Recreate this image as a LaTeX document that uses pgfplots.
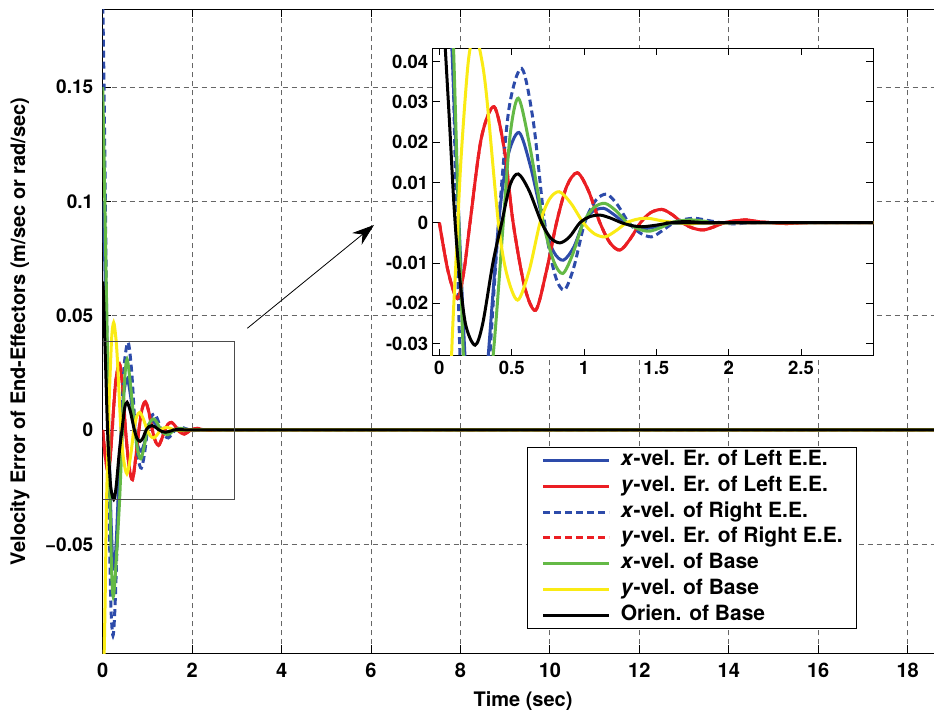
\documentclass[border=0pt]{standalone}
\usepackage{fontspec}
\setmainfont{TeX Gyre Heros}
\usepackage{pgfplots}
\pgfplotsset{compat=1.18}
\usepackage{pgfplotstable}
\usetikzlibrary{arrows.meta}

\definecolor{mblue}{RGB}{45,75,170}
\definecolor{mred}{RGB}{235,30,35}
\definecolor{mgreen}{RGB}{100,185,70}
\definecolor{myellow}{RGB}{250,235,20}

% x-vel. Er. of Left E.E.
\pgfplotstableread{
t v
0 0.100
0.03 0.085
0.06 0.063
0.085 0.0446
0.13 0.005
0.177 -0.033
0.22 -0.056
0.26 -0.060
0.30 -0.050
0.339 -0.0325
0.41 0
0.47 0.016
0.55 0.0224
0.63 0.014
0.719 0
0.79 -0.0072
0.857 -0.0093
0.93 -0.006
0.995 0
1.06 0.0028
1.134 0.0036
1.20 0.0022
1.28 0
1.35 -0.0010
1.433 -0.0014
1.52 -0.0008
1.60 0
1.70 0.0004
1.80 0.0002
1.95 0
3 0
20 0
}\xL

% y-vel. Er. of Left E.E.
\pgfplotstableread{
t v
0 0
0.06 -0.012
0.124 -0.0188
0.17 -0.012
0.212 0
0.29 0.021
0.378 0.0288
0.45 0.018
0.51 0
0.59 -0.016
0.666 -0.0217
0.74 -0.012
0.81 0
0.88 0.009
0.954 0.0124
1.03 0.008
1.11 0
1.18 -0.005
1.249 -0.0068
1.32 -0.004
1.39 0
1.46 0.0025
1.539 0.0033
1.61 0.002
1.68 0
1.75 -0.0013
1.825 -0.0018
1.90 -0.001
1.97 0
2.05 0.0005
2.124 0.0007
2.20 0.0003
2.30 0
2.40 -0.0002
2.55 0
3 0
20 0
}\yL

% x-vel. of Right E.E.
\pgfplotstableread{
t v
0 0.190
0.03 0.150
0.06 0.100
0.10 0.030
0.14 -0.030
0.18 -0.075
0.23 -0.090
0.28 -0.075
0.35 -0.0325
0.41 0
0.48 0.028
0.569 0.0383
0.65 0.025
0.728 0
0.80 -0.013
0.864 -0.0167
0.93 -0.011
1.005 0
1.08 0.0055
1.157 0.0071
1.23 0.0045
1.31 0
1.39 -0.0026
1.468 -0.0035
1.54 -0.002
1.62 0
1.69 0.0008
1.767 0.0011
1.85 0.0006
1.95 0
2.05 -0.0003
2.20 0
3 0
20 0
}\xR

% x-vel. of Base
\pgfplotstableread{
t v
0 0.150
0.03 0.120
0.06 0.085
0.097 0.0446
0.13 0.005
0.166 -0.033
0.20 -0.062
0.235 -0.073
0.28 -0.064
0.373 -0.0325
0.442 0
0.49 0.022
0.546 0.0309
0.62 0.020
0.719 0
0.79 -0.0095
0.853 -0.0126
0.92 -0.008
0.995 0
1.07 0.0038
1.145 0.0048
1.22 0.003
1.30 0
1.38 -0.0016
1.452 -0.0021
1.53 -0.0012
1.60 0
1.67 0.0005
1.744 0.0007
1.85 0.0003
1.95 0
3 0
20 0
}\xB

% y-vel. of Base
\pgfplotstableread{
t v
0 -0.110
0.03 -0.100
0.058 -0.070
0.085 -0.0325
0.12 -0.006
0.15 0.016
0.20 0.040
0.245 0.047
0.29 0.041
0.327 0.0313
0.408 0
0.465 -0.0126
0.541 -0.0192
0.62 -0.012
0.696 0
0.76 0.0058
0.829 0.0077
0.91 0.0048
0.995 0
1.07 -0.0027
1.145 -0.0035
1.22 -0.002
1.295 0
1.37 0.0009
1.445 0.0011
1.55 0.0004
1.65 0
1.75 -0.0003
1.90 0
3 0
20 0
}\yB

% Orien. of Base
\pgfplotstableread{
t v
0 0.065
0.02 0.058
0.039 0.0446
0.07 0.025
0.10 0.005
0.131 -0.0101
0.18 -0.025
0.247 -0.0304
0.30 -0.025
0.37 -0.010
0.431 0
0.49 0.0095
0.546 0.0121
0.62 0.008
0.707 0
0.77 -0.0038
0.834 -0.005
0.90 -0.0035
0.972 0
1.04 0.0015
1.11 0.0019
1.18 0.0012
1.26 0
1.33 -0.0007
1.40 -0.001
1.50 -0.0006
1.60 0
1.70 0.0003
1.80 0.0001
1.90 0
3 0
20 0
}\oB

\pgfplotsset{
  curve/.style={line width=3pt, smooth, no markers},
  mdash/.style={dash pattern=on 7pt off 4pt},
}

\begin{document}
\begin{tikzpicture}
\useasboundingbox (0pt,0pt) rectangle (934pt,714pt);
\begin{axis}[
  at={(102.7pt,60.7pt)}, anchor=south west,
  scale only axis, width=840.7pt, height=644pt,
  xmin=0, xmax=18.8, ymin=-0.0977, ymax=0.184,
  scaled ticks=false,
  xtick={0,2,4,6,8,10,12,14,16,18},
  xticklabels={0,2,4,6,8,10,12,14,16,18},
  ytick={-0.05,0,0.05,0.1,0.15},
  yticklabels={−0.05,0,0.05,0.1,0.15},
  tick align=inside, major tick length=8pt,
  tick style={line width=0.8pt, black},
  axis line style={line width=1.2pt},
  grid=major,
  major grid style={line width=0.8pt, black!60, dash pattern=on 5pt off 4pt},
  xticklabel style={font=\fontsize{20}{22}\selectfont\bfseries, yshift=-6pt},
  yticklabel style={font=\fontsize{19}{22}\selectfont\bfseries, xshift=-6pt},
  xlabel={Time (sec)},
  ylabel={Velocity Error of End-Effectors (m/sec or rad/sec)},
  label style={font=\fontsize{20}{22}\selectfont\bfseries},
  xlabel style={at={(axis description cs:0.5,-0.074)}, anchor=center},
  ylabel style={at={(axis description cs:-0.0984,0.5)}, anchor=center},
  legend style={at={(0.8973,0.3203)}, anchor=north east, draw=black,
    line width=0.8pt, fill=white,
    font=\fontsize{21}{23}\selectfont\bfseries,
    nodes={inner sep=0pt, text height=15pt, text depth=5pt},
    cells={anchor=west}, row sep=5.8pt, column sep=10pt,
    inner xsep=14pt, inner ysep=3pt},
  legend image code/.code={\draw[#1] (0pt,0pt) -- (66pt,0pt);},
]
\addplot[curve, mblue] table {\xL};
\addlegendentry{\textit{x}-vel. Er. of Left E.E.}
\addplot[curve, mred] table {\yL};
\addlegendentry{\textit{y}-vel. Er. of Left E.E.}
\addplot[curve, mblue, mdash] table {\xR};
\addlegendentry{\textit{x}-vel. of Right E.E.}
\addplot[curve, mred, mdash] table {\yL};
\addlegendentry{\textit{y}-vel. Er. of Right E.E.}
\addplot[curve, mgreen] table {\xB};
\addlegendentry{\textit{x}-vel. of Base}
\addplot[curve, myellow] table {\yB};
\addlegendentry{\textit{y}-vel. of Base}
\addplot[curve, black] table {\oB};
\addlegendentry{Orien. of Base}
\draw[black!70, line width=0.8pt] (axis cs:-0.038,-0.0302) rectangle (axis cs:2.936,0.0389);
\end{axis}

\draw[line width=0.8pt, -{Stealth[length=22pt,width=15pt]}] (247.3pt,385.7pt) -- (374pt,489pt);

\begin{axis}[
  at={(432.7pt,358.3pt)}, anchor=south west,
  scale only axis, width=440.6pt, height=307.4pt,
  xmin=-0.046, xmax=3.0, ymin=-0.033, ymax=0.0433,
  scaled ticks=false,
  axis background/.style={fill=white},
  xtick={0,0.5,1,1.5,2,2.5},
  xticklabels={0,0.5,1,1.5,2,2.5},
  ytick={-0.03,-0.02,-0.01,0,0.01,0.02,0.03,0.04},
  yticklabels={-0.03,-0.02,-0.01,0,0.01,0.02,0.03,0.04},
  tick align=inside, major tick length=7pt,
  tick style={line width=0.8pt, black},
  axis line style={line width=1.4pt},
  tick label style={font=\fontsize{18.5}{22}\selectfont\bfseries},
  xticklabel style={yshift=-2pt},
  yticklabel style={xshift=-1pt},
]
\addplot[curve, mblue] table {\xL};
\addplot[curve, mred] table {\yL};
\addplot[curve, mblue, mdash] table {\xR};
\addplot[curve, mred, mdash] table {\yL};
\addplot[curve, mgreen] table {\xB};
\addplot[curve, myellow] table {\yB};
\addplot[curve, black] table {\oB};
\end{axis}
\end{tikzpicture}
\end{document}
